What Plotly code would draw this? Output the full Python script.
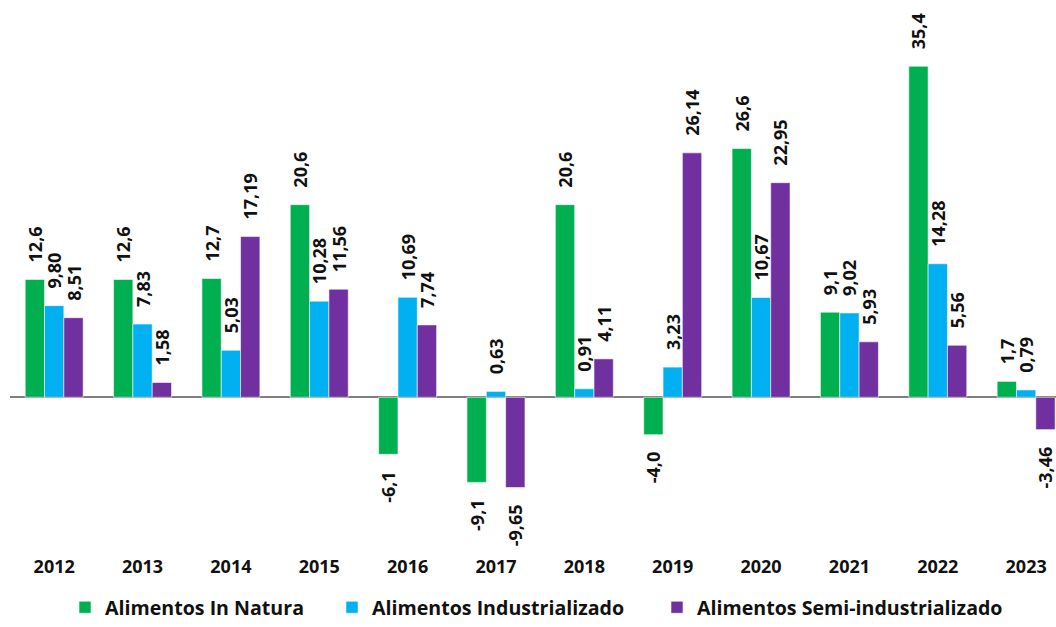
import plotly.graph_objects as go

years = ["2012", "2013", "2014", "2015", "2016", "2017", "2018", "2019", "2020", "2021", "2022", "2023"]
in_natura = [12.6, 12.6, 12.7, 20.6, -6.1, -9.1, 20.6, -4.0, 26.6, 9.1, 35.4, 1.7]
industrializado = [9.80, 7.83, 5.03, 10.28, 10.69, 0.63, 0.91, 3.23, 10.67, 9.02, 14.28, 0.79]
semi_industrializado = [8.51, 1.58, 17.19, 11.56, 7.74, -9.65, 4.11, 26.14, 22.95, 5.93, 5.56, -3.46]

NB = "\u00a0\u00a0\u00a0"
series = [
    ("Alimentos In Natura", in_natura, "#00B050", ".1f", "legend", 65),
    ("Alimentos Industrializado", industrializado, "#00B0F0", ".2f", "legend2", 332),
    ("Alimentos Semi-industrializado", semi_industrializado, "#7030A0", ".2f", "legend3", 657),
]

fig = go.Figure()
legends = {}
for name, vals, color, fmt, leg, lx in series:
    templ = [(NB + "%{y:" + fmt + "}") if v >= 0 else ("%{y:" + fmt + "}" + NB) for v in vals]
    fig.add_trace(go.Bar(
        x=years, y=vals, name=name, legend=leg,
        marker=dict(color=color, line=dict(color="rgba(255,255,255,0.7)", width=0.8)),
        texttemplate=templ, textposition="outside", textangle=-90,
        textfont=dict(family="Open Sans", size=18, color="#111111", weight="bold"),
        cliponaxis=False, constraintext="none",
    ))
    legends[leg] = dict(
        orientation="h", xref="container", yref="container",
        x=lx / 1056, y=-6 / 627, xanchor="left", yanchor="bottom",
        font=dict(family="Open Sans", size=19.6, color="#111111", weight="bold"),
        bgcolor="rgba(0,0,0,0)", borderwidth=0,
    )

fig.update_layout(
    width=1056, height=627,
    margin=dict(l=10, r=0, t=20, b=73),
    paper_bgcolor="white", plot_bgcolor="white",
    barmode="group", bargap=0.344, bargroupgap=0,
    separators=",.",
    font=dict(family="Open Sans", color="#111111"),
    xaxis=dict(
        type="category", range=[-0.5, 11.338], showgrid=False, showline=False,
        ticks="", tickfont=dict(family="Open Sans", size=18, color="#111111", weight="bold"),
    ),
    yaxis=dict(
        range=[-16.76, 40.35], showgrid=False, showticklabels=False, showline=False,
        zeroline=True, zerolinecolor="#7f7f7f", zerolinewidth=2,
    ),
    showlegend=True,
    **legends,
)

fig.write_html(
    "out.html",
    config={"displayModeBar": False},
    post_script="document.body.style.margin='0';document.body.style.overflow='hidden';",
)
